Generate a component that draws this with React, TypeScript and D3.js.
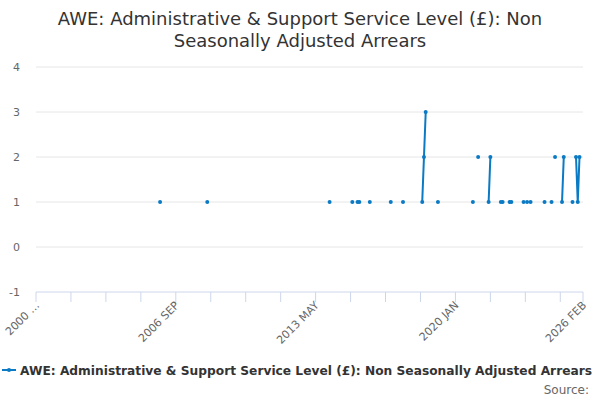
import { useEffect, useRef } from "react"
import * as d3 from "d3"

// monthly observations (missing months are gaps)
const obsMonths = [
  "2005-12", "2008-03", "2014-01", "2015-02", "2015-05", "2015-06", "2015-12",
  "2016-12", "2017-07", "2018-06", "2018-07", "2018-08", "2019-03", "2020-11",
  "2021-02", "2021-08", "2021-09", "2022-03", "2022-04", "2022-08", "2022-09",
  "2023-04", "2023-06", "2023-08", "2024-04", "2024-08", "2024-10", "2025-02",
  "2025-03", "2025-08", "2025-10", "2025-11", "2025-12",
]
const obsValues = [
  1, 1, 1, 1, 1, 1, 1,
  1, 1, 1, 2, 3, 1, 1,
  2, 1, 2, 1, 1, 1, 1,
  1, 1, 1, 1, 1, 2, 1,
  2, 1, 2, 1, 2,
]
const yTicks = [-1, 0, 1, 2, 3, 4]
const xLabelMonths = [0, 80, 160, 240, 313]
const xLabels = ["2000 …", "2006 SEP", "2013 MAY", "2020 JAN", "2026 FEB"]

const title = ["AWE: Administrative & Support Service Level (£): Non", "Seasonally Adjusted Arrears"]
const seriesName = "AWE: Administrative & Support Service Level (£): Non Seasonally Adjusted Arrears"
const color = "#0a7ac4"

const toIndex = (s: string) => {
  const [y, m] = s.split("-").map(Number)
  return (y - 2000) * 12 + (m - 1)
}

export default function App() {
  const svgRef = useRef<SVGSVGElement>(null)

  useEffect(() => {
    document.body.style.margin = "0"
    if (!svgRef.current) return
    const width = 600
    const height = 400
    const svg = d3.select(svgRef.current).attr("width", width).attr("height", height)
    svg.selectAll("*").remove()

    const margin = { top: 67, right: 17, bottom: 108, left: 36 }
    const endMonth = 313

    const x = d3.scaleLinear().domain([0, endMonth]).range([margin.left, width - margin.right])
    const y = d3.scaleLinear().domain([-1, 4]).range([height - margin.bottom, margin.top])

    // build full monthly table with nulls
    const byMonth = new Map<number, number>()
    obsMonths.forEach((m, i) => byMonth.set(toIndex(m), obsValues[i]))
    const table = d3.range(0, endMonth + 1).map((m) => ({ m, v: byMonth.has(m) ? byMonth.get(m)! : null }))

    const font = "'DejaVu Sans', Verdana, sans-serif"

    // title
    svg
      .append("g")
      .selectAll("text")
      .data(title)
      .enter()
      .append("text")
      .attr("x", width / 2)
      .attr("y", (_, i) => 25 + i * 22)
      .attr("text-anchor", "middle")
      .attr("font-family", font)
      .attr("font-size", 18)
      .attr("fill", "#333333")
      .text((d) => d)

    // grid
    svg
      .append("g")
      .selectAll("line")
      .data(yTicks.filter((t) => t !== -1))
      .enter()
      .append("line")
      .attr("x1", margin.left)
      .attr("x2", width - margin.right)
      .attr("y1", (d) => y(d))
      .attr("y2", (d) => y(d))
      .attr("stroke", "#e6e6e6")

    svg
      .append("g")
      .selectAll("text")
      .data(yTicks)
      .enter()
      .append("text")
      .attr("x", 20)
      .attr("y", (d) => y(d) + 4)
      .attr("text-anchor", "end")
      .attr("font-family", font)
      .attr("font-size", 11)
      .attr("fill", "#666666")
      .text((d) => d)

    // x axis
    const axisY = y(-1)
    svg
      .append("line")
      .attr("x1", margin.left)
      .attr("x2", width - margin.right)
      .attr("y1", axisY)
      .attr("y2", axisY)
      .attr("stroke", "#ccd6eb")
    const tickMonths = [...d3.range(0, 301, 20), endMonth]
    svg
      .append("g")
      .selectAll("line")
      .data(tickMonths)
      .enter()
      .append("line")
      .attr("x1", (d) => x(d))
      .attr("x2", (d) => x(d))
      .attr("y1", axisY)
      .attr("y2", axisY + 10)
      .attr("stroke", "#ccd6eb")
    svg
      .append("g")
      .selectAll("text")
      .data(xLabelMonths)
      .enter()
      .append("text")
      .attr("transform", (d) => `translate(${x(d) + 4},${axisY + 14}) rotate(-45)`)
      .attr("text-anchor", "end")
      .attr("font-family", font)
      .attr("font-size", 11)
      .attr("fill", "#666666")
      .text((_, i) => xLabels[i])

    // series
    const line = d3
      .line<{ m: number; v: number | null }>()
      .defined((d) => d.v !== null)
      .x((d) => x(d.m))
      .y((d) => y(d.v as number))
    svg
      .append("path")
      .datum(table)
      .attr("d", line)
      .attr("fill", "none")
      .attr("stroke", color)
      .attr("stroke-width", 2)
    svg
      .append("g")
      .selectAll("circle")
      .data(table.filter((d) => d.v !== null))
      .enter()
      .append("circle")
      .attr("cx", (d) => x(d.m))
      .attr("cy", (d) => y(d.v as number))
      .attr("r", 2)
      .attr("fill", color)

    // legend
    const ly = 370
    svg.append("line").attr("x1", 2).attr("x2", 16).attr("y1", ly).attr("y2", ly).attr("stroke", color).attr("stroke-width", 2)
    svg.append("circle").attr("cx", 9).attr("cy", ly).attr("r", 2).attr("fill", color)
    svg
      .append("text")
      .attr("x", 20)
      .attr("y", ly + 4.5)
      .attr("font-family", font)
      .attr("font-size", 11.5)
      .attr("font-weight", "bold")
      .attr("fill", "#333333")
      .attr("textLength", 572)
      .attr("lengthAdjust", "spacingAndGlyphs")
      .text(seriesName)

    svg
      .append("text")
      .attr("x", 589)
      .attr("y", 394)
      .attr("text-anchor", "end")
      .attr("font-family", font)
      .attr("font-size", 12)
      .attr("fill", "#666666")
      .text("Source:")
  }, [])

  return <svg ref={svgRef} style={{ display: "block" }} />
}
